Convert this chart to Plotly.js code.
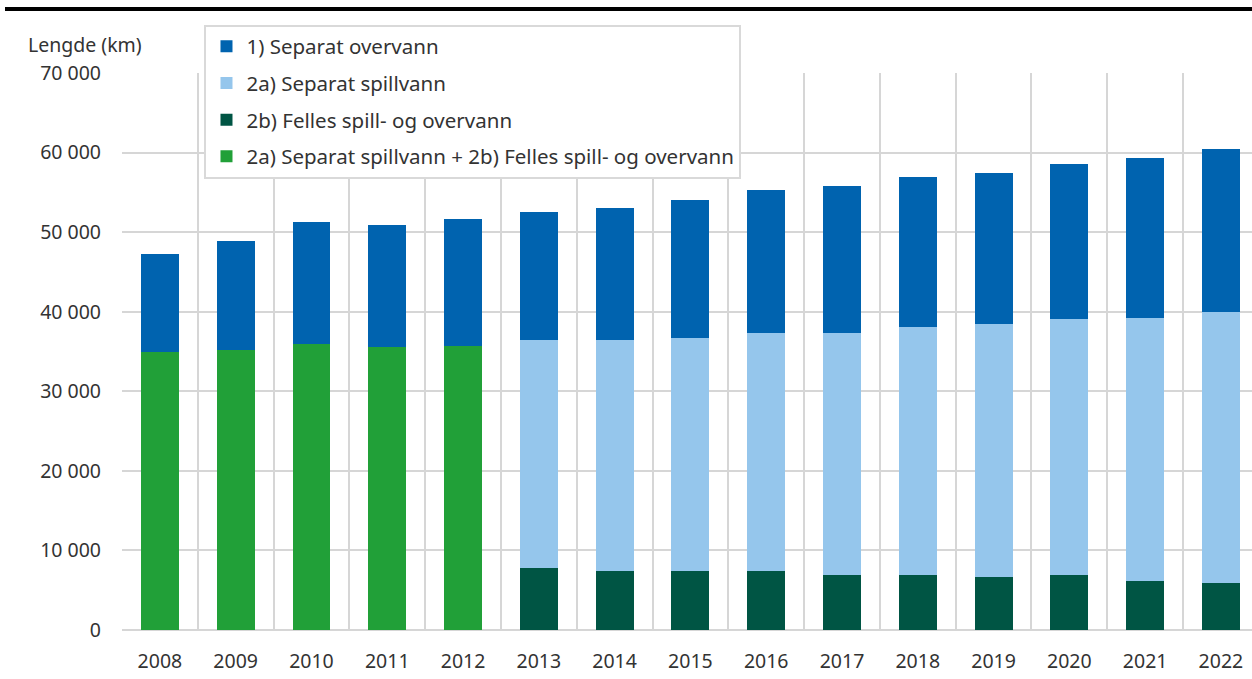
<!DOCTYPE html>
<html>
<head>
<meta charset="utf-8">
<script src="https://cdn.plot.ly/plotly-3.0.1.min.js"></script>
<style>
  html, body { margin: 0; padding: 0; background: #ffffff; }
  #chart { width: 1252px; height: 679px; }
  #rule { position: absolute; left: 5px; right: 0; top: 7px; height: 4px; background: #000; }
</style>
</head>
<body>
<div id="chart"></div>
<div id="rule"></div>
<script>
// Data (km)
const years = ["2008","2009","2010","2011","2012","2013","2014","2015","2016","2017","2018","2019","2020","2021","2022"];
const separatOvervann = [12230, 13680, 15310, 15300, 15850, 16160, 16620, 17240, 17920, 18430, 18790, 18950, 19450, 20090, 20430];
const separatSpillvann = [null, null, null, null, null, 28650, 28950, 29300, 29950, 30420, 31150, 31840, 32120, 33080, 34070];
const fellesSpillOvervann = [null, null, null, null, null, 7750, 7450, 7450, 7420, 6950, 6950, 6600, 6950, 6150, 5950];
const kombinert = [35000, 35150, 35950, 35600, 35750, null, null, null, null, null, null, null, null, null, null];

const names = {
  over: "1) Separat overvann",
  spill: "2a) Separat spillvann",
  felles: "2b) Felles spill- og overvann",
  komb: "2a) Separat spillvann + 2b) Felles spill- og overvann"
};
const colors = { over: "#0063AF", spill: "#95C6EC", felles: "#005544", komb: "#21A038" };

function bar(y, key, rank) {
  return {
    type: "bar", x: years, y: y, name: names[key],
    marker: { color: colors[key], line: { width: 0 } },
    legendrank: rank, legendgroup: key,
    hovertemplate: "%{x}: %{y}<extra>" + names[key] + "</extra>"
  };
}

// stacking order bottom -> top
const data = [
  bar(kombinert, "komb", 4),
  bar(fellesSpillOvervann, "felles", 3),
  bar(separatSpillvann, "spill", 2),
  bar(separatOvervann, "over", 1)
];

const font = "'Noto Sans', 'Open Sans', sans-serif";
const layout = {
  width: 1252, height: 679,
  margin: { l: 122, r: 0, t: 73, b: 49, pad: 0 },
  paper_bgcolor: "#ffffff", plot_bgcolor: "#ffffff",
  barmode: "stack", bargap: 0.5,
  separators: ", ",
  font: { family: font, size: 19, color: "#333333" },
  showlegend: true,
  legend: {
    x: 0.073, xanchor: "left", y: 1.087, yanchor: "top",
    bgcolor: "#ffffff", bordercolor: "#d9d9d9", borderwidth: 2,
    font: { family: font, size: 20.5, color: "#333333" },
    traceorder: "grouped", tracegroupgap: 7,
    itemwidth: 30, entrywidth: 555, entrywidthmode: "pixels"
  },
  xaxis: {
    type: "category", range: [-0.5, 14.41],
    tickson: "boundaries", showgrid: true, gridcolor: "#d6d6d6", gridwidth: 2,
    ticks: "", showline: false, zeroline: false,
    ticklabelstandoff: 17,
    tickfont: { family: font, size: 19.5, color: "#333333" }
  },
  yaxis: {
    range: [0, 70000], dtick: 10000, tick0: 0, tickformat: ",d",
    showgrid: true, gridcolor: "#d6d6d6", gridwidth: 2,
    zeroline: true, zerolinecolor: "#d6d6d6", zerolinewidth: 2,
    showline: false, ticks: "", ticklabelstandoff: 20,
    tickfont: { family: font, size: 19.5, color: "#333333" }
  },
  annotations: [{
    text: "Lengde (km)", xref: "paper", yref: "paper",
    x: -0.085, xanchor: "left", y: 1.052, yanchor: "middle",
    showarrow: false, font: { family: font, size: 19.5, color: "#333333" }
  }]
};

Plotly.newPlot("chart", data, layout, { displayModeBar: false, responsive: false });
</script>
</body>
</html>
